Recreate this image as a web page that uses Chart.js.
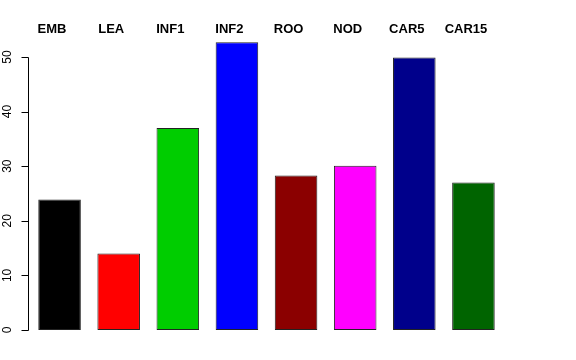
<!DOCTYPE html>
<html><head><meta charset="utf-8">
<script src="https://cdn.jsdelivr.net/npm/chart.js@4/dist/chart.umd.min.js"></script>
<style>html,body{margin:0;padding:0;background:#fff}#wrap{width:576px;height:360px}</style>
</head><body><div id="wrap"><canvas id="c" width="576" height="360"></canvas></div>
<script>
const categories = ["EMB","LEA","INF1","INF2","ROO","NOD","CAR5","CAR15"];
const values = [23.9, 14.0, 37.0, 52.7, 28.3, 30.1, 49.9, 27.0];
const barColors = ["#000000","#FF0000","#00CD00","#0000FF","#8B0000","#FF00FF","#00008B","#006400"];
const yTicks = [0,10,20,30,40,50];

const yAxisPlugin = {
  id: 'yAxisR',
  afterDraw(chart) {
    const ctx = chart.ctx, y = chart.scales.y;
    const ax = 28.5;
    ctx.save();
    ctx.strokeStyle = '#000';
    ctx.lineWidth = 1;
    ctx.beginPath();
    ctx.moveTo(ax, Math.round(y.getPixelForValue(0)) + 0.5);
    ctx.lineTo(ax, Math.round(y.getPixelForValue(50)) + 0.5);
    yTicks.forEach(t => {
      const py = Math.round(y.getPixelForValue(t)) + 0.5;
      ctx.moveTo(ax, py);
      ctx.lineTo(ax - 7, py);
    });
    ctx.stroke();
    ctx.font = '12px "Liberation Sans", Arial, sans-serif';
    ctx.fillStyle = '#000';
    ctx.textAlign = 'center';
    ctx.textBaseline = 'middle';
    yTicks.forEach(t => {
      ctx.save();
      ctx.translate(8, y.getPixelForValue(t));
      ctx.rotate(-Math.PI/2);
      ctx.fillText(String(t), 0, 0);
      ctx.restore();
    });
    ctx.restore();
  }
};

new Chart(document.getElementById('c'), {
  type: 'bar',
  data: {
    labels: categories,
    datasets: [{
      data: values,
      backgroundColor: barColors,
      borderColor: '#222',
      borderWidth: 1,
      borderSkipped: false,
      barPercentage: 0.72,
      categoryPercentage: 1,
      clip: false
    }]
  },
  options: {
    responsive: false,
    animation: false,
    events: [],
    layout: { padding: { left: 0, right: 73, top: 21, bottom: 30 } },
    plugins: { legend: { display: false }, tooltip: { enabled: false } },
    scales: {
      x: {
        position: 'top',
        grid: { display: false, drawTicks: false, tickLength: 0 },
        border: { display: false },
        ticks: {
          color: '#000',
          font: { family: '"Liberation Sans", Arial, sans-serif', size: 13, weight: 'bold' },
          padding: 20,
          labelOffset: -7.5,
          maxRotation: 0, minRotation: 0, autoSkip: false
        },
        afterFit(s) { s.height = 36; }
      },
      y: {
        min: 0, max: 50,
        grid: { display: false },
        border: { display: false },
        ticks: { display: false, stepSize: 10 },
        afterFit(s) { s.width = 30; }
      }
    }
  },
  plugins: [yAxisPlugin]
});
</script>
</body></html>
